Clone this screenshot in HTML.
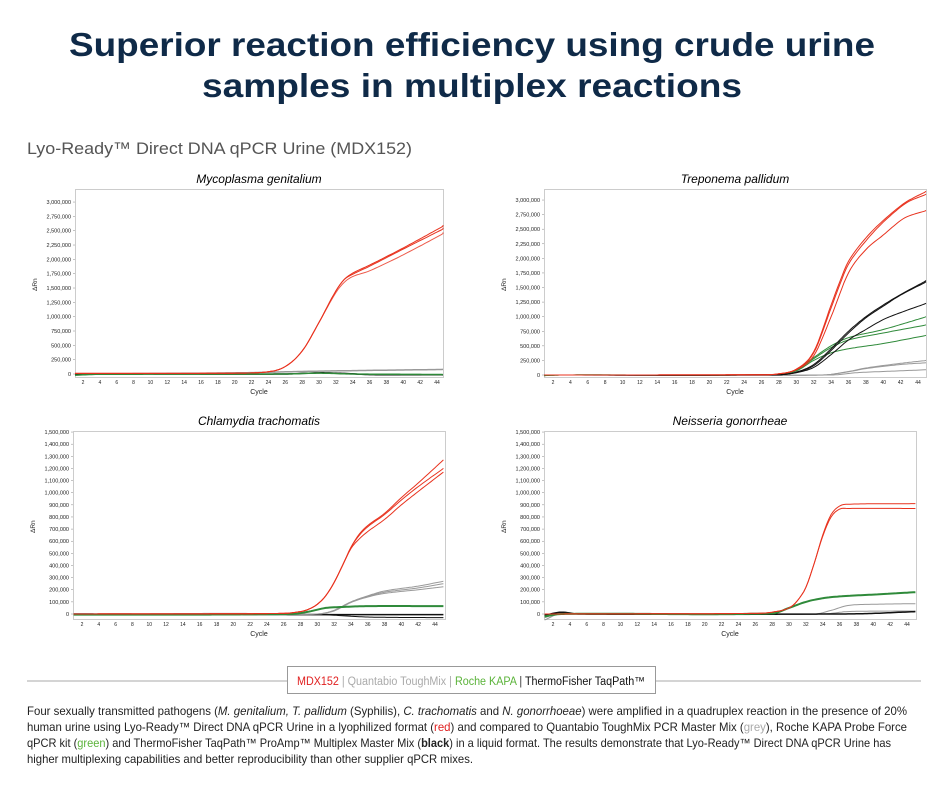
<!DOCTYPE html>
<html><head><meta charset="utf-8"><style>
html,body{margin:0;padding:0;background:#fff;width:945px;height:788px;overflow:hidden}
svg{display:block}
</style></head><body>
<svg id="s" width="945" height="788" viewBox="0 0 945 788" xmlns="http://www.w3.org/2000/svg" font-family="Liberation Sans, Arial, sans-serif">
<text x="472" y="56" text-anchor="middle" font-size="33" font-weight="bold" fill="#0f2a48" textLength="806" lengthAdjust="spacingAndGlyphs">Superior reaction efficiency using crude urine</text>
<text x="472" y="97" text-anchor="middle" font-size="33" font-weight="bold" fill="#0f2a48" textLength="540" lengthAdjust="spacingAndGlyphs">samples in multiplex reactions</text>
<text x="27" y="154" font-size="17" fill="#555" textLength="385" lengthAdjust="spacingAndGlyphs">Lyo-Ready™ Direct DNA qPCR Urine (MDX152)</text>
<g id="charts"></g>
<line x1="27" y1="681" x2="921" y2="681" stroke="#aaa" stroke-width="1"/>
<rect x="287.5" y="666.5" width="368" height="27" fill="#fff" stroke="#999"/>
<text x="297" y="685" font-size="11.5" textLength="348" lengthAdjust="spacingAndGlyphs"><tspan fill="#e02020">MDX152</tspan><tspan fill="#aaa"> | Quantabio ToughMix | </tspan><tspan fill="#5bb33a">Roche KAPA</tspan><tspan fill="#333"> | </tspan><tspan fill="#111">ThermoFisher TaqPath™</tspan></text>
<g font-size="12" fill="#222">
<text x="27" y="715" textLength="880" lengthAdjust="spacingAndGlyphs">Four sexually transmitted pathogens (<tspan font-style="italic">M. genitalium, T. pallidum</tspan> (Syphilis), <tspan font-style="italic">C. trachomatis</tspan> and <tspan font-style="italic">N. gonorrhoeae</tspan>) were amplified in a quadruplex reaction in the presence of 20%</text>
<text x="27" y="731" textLength="880" lengthAdjust="spacingAndGlyphs">human urine using Lyo-Ready™ Direct DNA qPCR Urine in a lyophilized format (<tspan fill="#e02020">red</tspan>) and compared to Quantabio ToughMix PCR Master Mix (<tspan fill="#aaa">grey</tspan>), Roche KAPA Probe Force</text>
<text x="27" y="747" textLength="864" lengthAdjust="spacingAndGlyphs">qPCR kit (<tspan fill="#5bb33a">green</tspan>) and ThermoFisher TaqPath™ ProAmp™ Multiplex Master Mix (<tspan font-weight="bold">black</tspan>) in a liquid format. The results demonstrate that Lyo-Ready™ Direct DNA qPCR Urine has</text>
<text x="27" y="763" textLength="446" lengthAdjust="spacingAndGlyphs">higher multiplexing capabilities and better reproducibility than other supplier qPCR mixes.</text>
</g>
</svg>
<script>
var NS="http://www.w3.org/2000/svg",G=document.getElementById("charts");
function el(t,a,txt){var e=document.createElementNS(NS,t);for(var k in a)e.setAttribute(k,a[k]);if(txt!=null)e.textContent=txt;G.appendChild(e);return e;}
function fmt(n){return n.toLocaleString("en-US");}
function interp(pts,c){if(c<=pts[0][0])return pts[0][1];for(var i=1;i<pts.length;i++){if(c<=pts[i][0]){var a=pts[i-1],b=pts[i];
var p0=pts[Math.max(i-2,0)],p3=pts[Math.min(i+1,pts.length-1)];var t=(c-a[0])/(b[0]-a[0]);
var m1=(b[1]-p0[1])/(b[0]-p0[0]||1)*(b[0]-a[0]),m2=(p3[1]-a[1])/(p3[0]-a[0]||1)*(b[0]-a[0]);
if(i-2<0)m1=(b[1]-a[1]);if(i+1>pts.length-1)m2=(b[1]-a[1]);
var t2=t*t,t3=t2*t;return (2*t3-3*t2+1)*a[1]+(t3-2*t2+t)*m1+(-2*t3+3*t2)*b[1]+(t3-t2)*m2;}}return pts[pts.length-1][1];}
function chart(o){
 var X=function(c){return o.c2+(c-2)*(o.c44-o.c2)/42;},Y=function(v){return o.y0-v*o.py;};
 el("rect",{x:o.l+.5,y:o.t+.5,width:o.r-o.l,height:o.b-o.t,fill:"#fff",stroke:"#ccc"});
 el("text",{x:(o.l+o.r)/2,y:o.t-6,"text-anchor":"middle","font-size":12,"font-style":"italic"},o.title);
 for(var v=0;v<=o.max;v+=o.step){el("text",{x:o.l-4,y:Y(v)+2,"text-anchor":"end","font-size":5.5,fill:"#222"},fmt(v));
  el("line",{x1:o.l-2,x2:o.l,y1:Y(v),y2:Y(v),stroke:"#888","stroke-width":.5});}
 for(var c=2;c<=44;c+=2){el("text",{x:X(c),y:o.b+7,"text-anchor":"middle","font-size":5,fill:"#222"},c);}
 el("text",{x:(o.l+o.r)/2,y:o.b+17,"text-anchor":"middle","font-size":7,fill:"#222"},"Cycle");
 el("text",{x:0,y:0,"font-size":6.5,fill:"#222",transform:"translate("+(o.l-38)+","+((o.t+o.b)/2+8)+") rotate(-90)"},"ΔRn");
 o.series.forEach(function(s){var d="";for(var c=1;c<=45;c+=0.25){var x=X(c);if(x>o.r)x=o.r;if(x<o.l)x=o.l;d+=(d?"L":"M")+x.toFixed(1)+","+Y(interp(s.p,c)).toFixed(1);}
  el("path",{d:d,fill:"none",stroke:s.c,"stroke-width":s.w||1,opacity:s.o||1});});
}
var R="#e8321e",GR="#999",GN="#2f8a3a",BK="#111";
chart({title:"Mycoplasma genitalium",l:75,r:443,t:189,b:377,c2:83,c44:437,y0:374,py:14.33/250000,max:3000000,step:250000,series:[
 {c:GR,p:[[1,0],[20,20000],[30,50000],[45,80000]],w:1.5},
 {c:BK,p:[[1,-15000],[3,0],[26,0],[30,20000],[33,10000],[36,-10000],[45,-15000]],w:1.5},
 {c:GN,p:[[1,-20000],[4,-5000],[26,0],[30,15000],[34,0],[45,-10000]],w:1.5},
 {c:R,p:[[1,10000],[20,15000],[24,40000],[26,130000],[28,400000],[30,900000],[32,1450000],[33,1650000],[34,1760000],[36,1900000],[40,2200000],[45,2600000]]},
 {c:R,p:[[1,10000],[20,15000],[24,40000],[26,130000],[28,400000],[30,900000],[32,1450000],[33,1650000],[34,1740000],[36,1880000],[40,2180000],[45,2550000]]},
 {c:R,p:[[1,10000],[20,15000],[24,40000],[26,130000],[28,400000],[30,900000],[32,1420000],[33,1600000],[34,1700000],[36,1800000],[40,2080000],[45,2470000]],o:.8}
]});
chart({title:"Treponema pallidum",l:544,r:926,t:189,b:377,c2:553,c44:918,y0:375,py:14.58/250000,max:3000000,step:250000,series:[
 {c:GR,p:[[1,0],[33,0],[36,60000],[38,120000],[42,200000],[45,250000]]},
 {c:GR,p:[[1,0],[33,0],[36,55000],[38,110000],[42,180000],[45,210000]]},
 {c:GR,p:[[1,0],[34,0],[37,40000],[40,60000],[45,90000]]},
 {c:GN,p:[[1,-10000],[3,0],[28,10000],[30,90000],[32,300000],[34,500000],[36,640000],[40,780000],[45,1000000]]},
 {c:GN,p:[[1,-10000],[3,0],[28,10000],[30,80000],[32,280000],[34,470000],[36,600000],[40,720000],[45,860000]]},
 {c:GN,p:[[1,-10000],[3,0],[28,10000],[30,70000],[32,250000],[34,380000],[36,450000],[40,540000],[45,680000]]},
 {c:BK,p:[[1,0],[28,5000],[30,50000],[32,180000],[34,450000],[36,750000],[38,1000000],[40,1200000],[42,1380000],[45,1620000]]},
 {c:BK,p:[[1,0],[28,5000],[30,45000],[32,160000],[34,420000],[36,720000],[38,980000],[40,1180000],[42,1370000],[45,1600000]]},
 {c:BK,p:[[1,0],[28,5000],[30,40000],[32,130000],[34,350000],[36,600000],[38,780000],[40,950000],[42,1070000],[45,1230000]]},
 {c:R,p:[[1,0],[26,5000],[28,20000],[30,100000],[32,400000],[34,1200000],[35,1600000],[36,1950000],[38,2350000],[40,2650000],[42,2900000],[43,3000000],[45,3150000]]},
 {c:R,p:[[1,0],[26,5000],[28,20000],[30,100000],[32,380000],[34,1150000],[35,1550000],[36,1900000],[38,2300000],[40,2620000],[42,2880000],[43,2980000],[45,3100000]]},
 {c:R,p:[[1,0],[26,5000],[28,20000],[30,90000],[32,330000],[34,1000000],[36,1750000],[38,2150000],[40,2400000],[42,2650000],[43,2730000],[45,2820000]]}
]});
chart({title:"Chlamydia trachomatis",l:73,r:445,t:431,b:619,c2:82,c44:435,y0:614,py:12.13/100000,max:1500000,step:100000,series:[
 {c:BK,p:[[1,0],[30,-5000],[45,-5000]],w:1.5},
 {c:BK,p:[[1,0],[30,-5000],[36,-25000],[45,-30000]]},
 {c:GR,p:[[1,0],[21,5000],[24,0],[30,0],[32,30000],[34,100000],[36,150000],[38,190000],[42,230000],[45,270000]]},
 {c:GR,p:[[1,0],[30,0],[32,30000],[34,100000],[36,145000],[38,180000],[42,215000],[45,250000]]},
 {c:GR,p:[[1,0],[30,0],[32,25000],[34,95000],[36,140000],[38,170000],[42,200000],[45,225000]]},
 {c:GN,p:[[1,-5000],[27,0],[29,20000],[31,50000],[33,58000],[36,65000],[45,65000]],w:2},
 {c:R,p:[[1,0],[26,5000],[28,20000],[29,40000],[30,80000],[31,150000],[32,260000],[33,400000],[34,550000],[35,660000],[36,730000],[38,830000],[40,960000],[42,1080000],[45,1270000]]},
 {c:R,p:[[1,0],[26,5000],[28,20000],[29,40000],[30,80000],[31,150000],[32,260000],[33,400000],[34,550000],[35,650000],[36,720000],[38,820000],[40,940000],[42,1050000],[45,1200000]]},
 {c:R,p:[[1,0],[26,5000],[28,20000],[29,40000],[30,80000],[31,150000],[32,260000],[33,400000],[34,540000],[35,620000],[36,680000],[38,780000],[40,900000],[42,1010000],[45,1170000]]}
]});
chart({title:"Neisseria gonorrheae",l:544,r:916,t:431,b:619,c2:553,c44:907,y0:614,py:12.13/100000,max:1500000,step:100000,series:[
 {c:GR,p:[[1,-50000],[3,10000],[5,0],[33,0],[35,30000],[37,70000],[40,80000],[45,85000]]},
 {c:GR,p:[[1,-30000],[3,10000],[5,0],[34,0],[37,20000],[45,25000]]},
 {c:BK,p:[[1,-10000],[3,15000],[5,0],[36,0],[40,5000],[45,20000]],w:1.5},
 {c:GN,p:[[1,-20000],[3,0],[28,5000],[30,50000],[32,100000],[34,130000],[36,145000],[40,160000],[45,180000]],w:2},
 {c:R,p:[[1,0],[26,5000],[28,15000],[30,50000],[31,110000],[32,220000],[33,420000],[34,650000],[35,820000],[36,890000],[37,905000],[45,910000]]},
 {c:R,p:[[1,0],[26,5000],[28,15000],[30,50000],[31,110000],[32,220000],[33,420000],[34,640000],[35,800000],[36,865000],[37,870000],[45,870000]]}
]});
</script>
</body></html>
